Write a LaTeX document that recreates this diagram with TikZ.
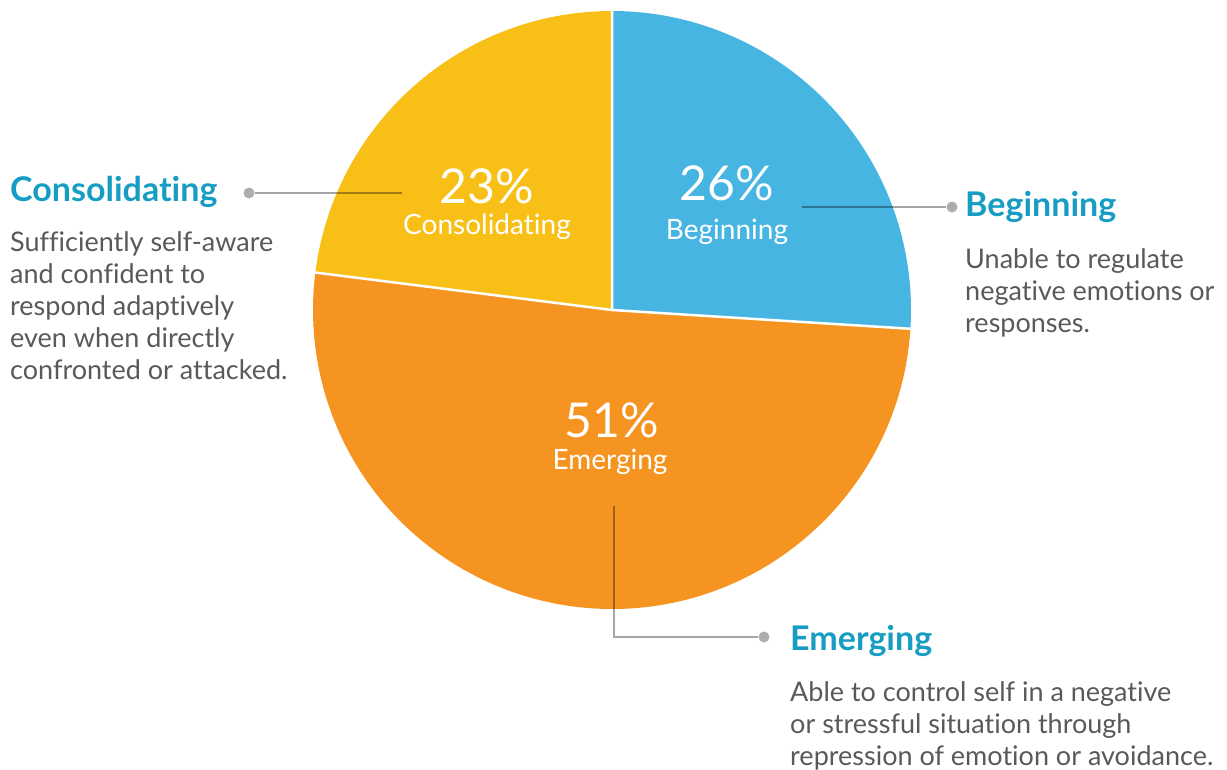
\documentclass[tikz,border=0pt]{standalone}
\usepackage{fontspec}
\setmainfont{Lato}[Ligatures=NoCommon]
\usetikzlibrary{positioning}
\definecolor{begblue}{HTML}{47B5E2}
\definecolor{conyellow}{HTML}{F8C016}
\definecolor{emeorange}{HTML}{F69421}
\definecolor{headteal}{HTML}{179DC3}
\definecolor{bodygray}{HTML}{58595B}
\begin{document}
\begin{tikzpicture}[x=1pt,y=-1pt,
  slice/.style={draw=white, line width=2.5pt, line join=round},
  pct/.style={text=white, font=\fontsize{48}{52}\selectfont, inner sep=0},
  sname/.style={text=white, font=\fontsize{28}{32}\selectfont, inner sep=0},
  head/.style={text=headteal, font=\bfseries\fontsize{34}{38}\selectfont, inner sep=0, anchor=base west},
  body/.style={text=bodygray, font=\fontsize{27}{32}\selectfont, inner sep=0, align=left, anchor=base west},
  dot/.style={circle, fill=black!32, inner sep=0, minimum size=11pt},
  leader/.style={draw=black, draw opacity=0.35, line width=2pt}]
  \useasboundingbox (0,0) rectangle (1227,769);
  % the pie
  \coordinate (ctr) at (612,310);
  \fill[begblue] (ctr) -- ++(-90:299) arc[start angle=-90, end angle=3.6, radius=299] -- cycle;
  \fill[emeorange] (ctr) -- ++(3.6:299) arc[start angle=3.6, end angle=187.2, radius=299] -- cycle;
  \fill[conyellow] (ctr) -- ++(187.2:299) arc[start angle=187.2, end angle=270, radius=299] -- cycle;
  \draw[slice] (ctr) -- ++(-90:299) (ctr) -- ++(3.6:299) (ctr) -- ++(187.2:299);
  % labels inside
  \node[pct, anchor=base] (conpct) at (487,203) {23\%};
  \node[sname, anchor=base] (conname) at (487,234) {Consolidating};
  \node[pct, anchor=base] (begpct) at (727,200) {26\%};
  \node[sname, anchor=base] (begname) at (727,239) {Beginning};
  \node[pct, anchor=base] (emepct) at (612,437) {51\%};
  \node[sname, anchor=base] (emename) at (610,469) {Emerging};
  % leaders
  \coordinate (conin) at (402,193);
  \node[dot] (condot) at (249,193) {};
  \coordinate (begin) at (802,207);
  \node[dot] (begdot) at (952,207) {};
  \coordinate (emein) at (614,506);
  \node[dot] (emedot) at (764,637) {};
  \draw[leader] (conin) -- (condot);
  \draw[leader] (begin) -- (begdot);
  \draw[leader] (emein) |- (emedot);
  % side texts (body anchored at its last baseline)
  \node[head] (conhead) at (10,201) {Consolidating};
  \node[body] (conbody) at (10,379) {Sufficiently self-aware\\and confident to\\respond adaptively\\even when directly\\confronted or attacked.};
  \node[head] (beghead) at (965,216) {Beginning};
  \node[body] (begbody) at (965,332) {Unable to regulate\\negative emotions or\\responses.};
  \node[head] (emehead) at (790,650) {Emerging};
  \node[body] (emebody) at (790,765) {Able to control self in a negative\\or stressful situation through\\repression of emotion or avoidance.};
\end{tikzpicture}
\end{document}
